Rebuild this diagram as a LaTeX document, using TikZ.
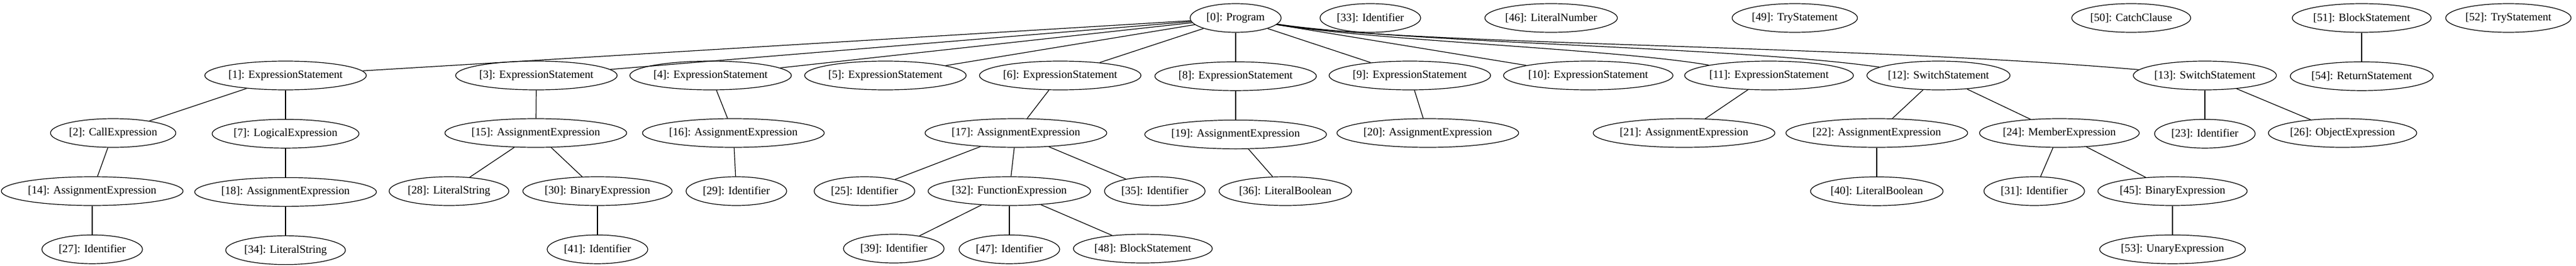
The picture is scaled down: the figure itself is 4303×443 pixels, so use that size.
\documentclass[tikz,border=0pt]{standalone}
\usepackage{fontspec}
\setmainfont{Liberation Serif}
\usepackage{tikz}
\usetikzlibrary{positioning, shapes.geometric}

\begin{document}
\begin{tikzpicture}
[x=0.75pt, y=-0.75pt,
   ast/.style={shape=ellipse, draw, line width=0.9pt, minimum height=36pt, minimum width=#1, inner xsep=0pt, inner ysep=0pt, font=\fontsize{14pt}{16pt}\selectfont},
   ast/.default=126pt,
   tie/.style={line width=0.9pt}]
\useasboundingbox (0,0) rectangle (4303,443);
% top row
\node[ast=114pt] (N0) at (2064, 30) {[0]: Program};
\node[ast] (N33) at (2289, 30) {[33]: Identifier};
\node[ast=166pt] (N46) at (2591, 30) {[46]: LiteralNumber};
\node[ast=157pt] (N49) at (2998, 30) {[49]: TryStatement};
\node[ast=149pt] (N50) at (3560, 30) {[50]: CatchClause};
\node[ast=174pt] (N51) at (3945, 30) {[51]: BlockStatement};
\node[ast=157pt] (N52) at (4190, 30) {[52]: TryStatement};
% statements
\node[ast=202pt] (N1) at (477, 126) {[1]: ExpressionStatement};
\node[ast=202pt] (N3) at (896, 126) {[3]: ExpressionStatement};
\node[ast=202pt] (N4) at (1187, 126) {[4]: ExpressionStatement};
\node[ast=202pt] (N5) at (1479, 126) {[5]: ExpressionStatement};
\node[ast=202pt] (N6) at (1771, 126) {[6]: ExpressionStatement};
\node[ast=202pt] (N8) [below=36pt of N0] {[8]: ExpressionStatement};
\node[ast=202pt] (N9) at (2355, 126) {[9]: ExpressionStatement};
\node[ast=209pt] (N10) at (2653, 126) {[10]: ExpressionStatement};
\node[ast=209pt] (N11) at (2955, 126) {[11]: ExpressionStatement};
\node[ast=179pt] (N12) at (3238, 126) {[12]: SwitchStatement};
\node[ast=179pt] (N13) at (3683, 126) {[13]: SwitchStatement};
\node[ast=179pt] (N54) [below=36pt of N51] {[54]: ReturnStatement};
% expressions
\node[ast=157pt] (N2) at (189, 222) {[2]: CallExpression};
\node[ast=184pt] (N7) [below=36pt of N1] {[7]: LogicalExpression};
\node[ast=223pt] (N15) at (895, 222) {[15]: AssignmentExpression};
\node[ast=223pt] (N16) at (1225, 222) {[16]: AssignmentExpression};
\node[ast=223pt] (N17) at (1697, 222) {[17]: AssignmentExpression};
\node[ast=223pt] (N19) [below=36pt of N8] {[19]: AssignmentExpression};
\node[ast=223pt] (N20) at (2385, 222) {[20]: AssignmentExpression};
\node[ast=223pt] (N21) at (2813, 222) {[21]: AssignmentExpression};
\node[ast=223pt] (N22) at (3135, 222) {[22]: AssignmentExpression};
\node[ast=197pt] (N24) at (3440, 222) {[24]: MemberExpression};
\node[ast] (N23) [below=36pt of N13] {[23]: Identifier};
\node[ast=184pt] (N26) at (3913, 222) {[26]: ObjectExpression};
% third row
\node[ast=223pt] (N14) at (154, 319) {[14]: AssignmentExpression};
\node[ast=223pt] (N18) [below=36pt of N7] {[18]: AssignmentExpression};
\node[ast=150pt] (N28) at (750, 319) {[28]: LiteralString};
\node[ast=184pt] (N30) at (998, 319) {[30]: BinaryExpression};
\node[ast] (N29) at (1230, 319) {[29]: Identifier};
\node[ast] (N25) at (1444, 319) {[25]: Identifier};
\node[ast=202pt] (N32) at (1686, 319) {[32]: FunctionExpression};
\node[ast] (N35) at (1929, 319) {[35]: Identifier};
\node[ast=166pt] (N36) at (2147, 319) {[36]: LiteralBoolean};
\node[ast=166pt] (N40) [below=36pt of N22] {[40]: LiteralBoolean};
\node[ast] (N31) at (3398, 319) {[31]: Identifier};
\node[ast=184pt] (N45) at (3629, 319) {[45]: BinaryExpression};
% leaves
\node[ast] (N27) [below=36pt of N14] {[27]: Identifier};
\node[ast=150pt] (N34) [below=36pt of N18] {[34]: LiteralString};
\node[ast] (N41) [below=36pt of N30] {[41]: Identifier};
\node[ast] (N39) at (1493, 415) {[39]: Identifier};
\node[ast] (N47) [below=36pt of N32] {[47]: Identifier};
\node[ast=174pt] (N48) at (1909, 415) {[48]: BlockStatement};
\node[ast=181pt] (N53) [below=36pt of N45] {[53]: UnaryExpression};
% edges
\foreach \c in {1,3,4,5,6,8,9,10}
  \draw [tie] (N0) -- (N\c);
\draw [tie] (N0) .. controls (2300,68) and (2700,82) .. (N11);
\draw [tie] (N0) .. controls (2350,72) and (2900,78) .. (N12);
\draw [tie] (N0) .. controls (2350,75) and (3100,75) .. (N13);
\draw [tie] (N1) -- (N2);
\draw [tie] (N1) -- (N7);
\draw [tie] (N2) -- (N14);
\draw [tie] (N14) -- (N27);
\draw [tie] (N7) -- (N18);
\draw [tie] (N18) -- (N34);
\draw [tie] (N3) -- (N15);
\draw [tie] (N15) -- (N28);
\draw [tie] (N15) -- (N30);
\draw [tie] (N30) -- (N41);
\draw [tie] (N4) -- (N16);
\draw [tie] (N16) -- (N29);
\draw [tie] (N6) -- (N17);
\foreach \c in {25,32,35}
  \draw [tie] (N17) -- (N\c);
\foreach \c in {39,47,48}
  \draw [tie] (N32) -- (N\c);
\draw [tie] (N8) -- (N19);
\draw [tie] (N19) -- (N36);
\draw [tie] (N9) -- (N20);
\draw [tie] (N11) -- (N21);
\draw [tie] (N12) -- (N22);
\draw [tie] (N12) -- (N24);
\draw [tie] (N22) -- (N40);
\draw [tie] (N24) -- (N31);
\draw [tie] (N24) -- (N45);
\draw [tie] (N45) -- (N53);
\draw [tie] (N13) -- (N23);
\draw [tie] (N13) -- (N26);
\draw [tie] (N51) -- (N54);
\end{tikzpicture}
\end{document}
